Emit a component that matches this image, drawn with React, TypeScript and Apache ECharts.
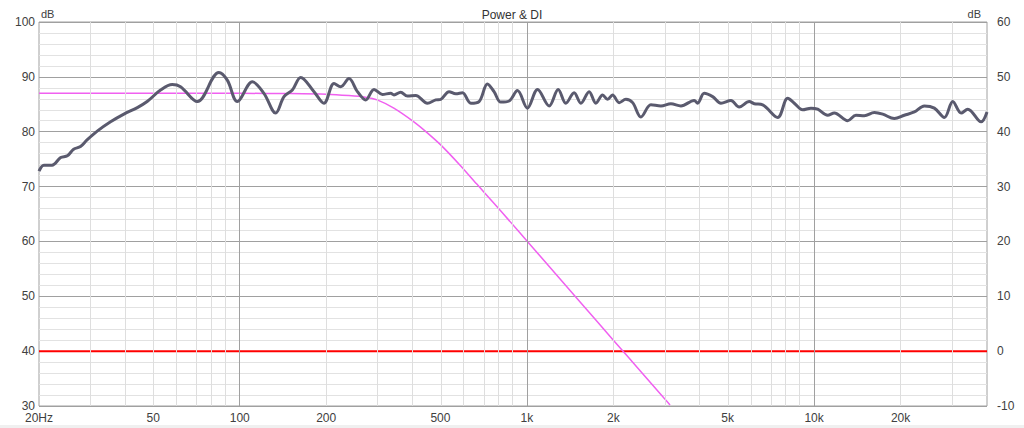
import React, { useEffect, useRef } from "react";
import * as echarts from "echarts";

// Power response (left axis, dB) – frequency in Hz
const powerFreq = [
  20, 20.8, 22.2, 23.8, 25.1, 26.4, 27.9, 29.4, 31.9, 35.5, 39.5, 44.0, 47.6, 53.0, 58.2, 62.2,
  71.2, 84.6, 90.5, 98.1, 110.7, 121.4, 133.4, 142.6, 152.5, 163, 181.4, 196.5, 213, 224.7,
  240.1, 257, 274.5, 293.5, 313.9, 335.5, 344.5, 363.4, 383.5, 409.9, 450.4, 481.4, 501.2,
  535.7, 565.2, 596.5, 637.5, 681.3, 728.6, 768.3, 811, 867, 927, 1004, 1089, 1195, 1285,
  1366, 1460, 1541, 1647, 1738, 1835, 1909, 1987, 2095, 2211, 2334, 2494, 2703, 2928, 3172,
  3438, 3824, 3930, 4143, 4432, 4738, 5134, 5486, 5946, 6190, 6620, 7468, 8094, 8532, 9125,
  9753, 10290, 11150, 11760, 13090, 13990, 14960, 16210, 17340, 19030, 20610, 22340, 24200,
  26230, 28420, 30400, 32500, 34290, 38150, 40000,
];
const powerDb = [
  72.8, 73.9, 73.9, 75.3, 75.6, 76.8, 77.3, 78.5, 80.1, 81.8, 83.2, 84.4, 85.5, 87.6, 88.6, 88.2,
  85.5, 90.8, 89.4, 85.5, 89.1, 87.0, 83.4, 86.4, 87.6, 89.9, 87.3, 85.2, 88.8, 88.2,
  89.7, 87.3, 85.8, 87.7, 86.8, 87.0, 86.7, 87.2, 86.5, 86.6, 85.2, 85.8, 85.9,
  87.3, 86.9, 87.1, 85.2, 85.5, 88.7, 87.3, 85.4, 85.6, 87.5, 84.3, 87.7, 84.7, 87.7,
  85.2, 87.1, 85.2, 87.3, 85.2, 86.7, 85.9, 86.7, 85.3, 85.9, 85.3, 82.7, 84.9, 84.7, 85.1,
  84.7, 85.7, 85.2, 87.0, 86.4, 85.2, 85.7, 84.5, 85.5, 85.1, 84.9, 82.6, 86.1, 85.2, 84.0,
  84.3, 84.1, 83.0, 83.4, 82.0, 83.0, 82.9, 83.5, 83.2, 82.4, 83.0, 83.6, 84.7,
  84.3, 82.6, 85.5, 83.4, 84.1, 81.8, 83.6,
];

// Target / low-pass curve (left axis, dB)
const targetFreq = [20, 50, 100, 150, 200, 240, 274, 301, 344, 404, 450, 501, 585, 668, 769, 871, 1004, 1200, 1500, 2000, 2500, 3000, 3150];
const targetDb = [87, 87, 87, 86.95, 86.85, 86.6, 86.3, 85.8, 84.3, 81.8, 79.8, 77.6, 73.9, 70.5, 66.9, 63.7, 60.0, 55.35, 49.5, 42.0, 36.2, 31.45, 30.2];

// DI (right axis, dB)
const diFreq = [20, 40000];
const diDb = [0, 0];

// Axis ticks
const xTickFreqs = [20, 50, 100, 200, 500, 1000, 2000, 5000, 10000, 20000];
const xTickLabels = ["20Hz", "50", "100", "200", "500", "1k", "2k", "5k", "10k", "20k"];
const majorGridFreqs = [100, 1000, 10000];
const minorGridFreqs = [
  30, 40, 50, 60, 70, 80, 90,
  200, 300, 400, 500, 600, 700, 800, 900,
  2000, 3000, 4000, 5000, 6000, 7000, 8000, 9000,
  20000, 30000,
];

const FONT = "Liberation Sans, Arial, sans-serif";
const lg = (f: number) => Math.log10(f);

export default function App() {
  const ref = useRef<HTMLDivElement>(null);

  useEffect(() => {
    document.body.style.margin = "0";
    if (!ref.current) return;
    const chart = echarts.init(ref.current, null, { renderer: "svg" });

    const gridLines = [
      ...minorGridFreqs.map((f) => ({ xAxis: lg(f), lineStyle: { color: "#dedede", width: 1, type: "solid" as const } })),
      ...majorGridFreqs.map((f) => ({ xAxis: lg(f), lineStyle: { color: "#a0a0a0", width: 1, type: "solid" as const } })),
    ];

    chart.setOption({
      animation: false,
      backgroundColor: "#ffffff",
      title: {
        text: "Power & DI",
        left: "center",
        top: 4,
        textStyle: { fontFamily: FONT, fontSize: 12, fontWeight: "normal", color: "#333333" },
      },
      graphic: [
        { type: "rect", shape: { x: 0, y: 425, width: 1024, height: 3 }, style: { fill: "#f0f0f0" }, silent: true },
      ],
      grid: {
        left: 39,
        right: 37,
        top: 22,
        bottom: 22,
        show: true,
        borderColor: "#a0a0a0",
        borderWidth: 1,
        backgroundColor: "#ffffff",
      },
      xAxis: {
        type: "value",
        min: lg(20),
        max: lg(40000),
        axisLine: { show: false },
        axisTick: { show: false },
        splitLine: { show: false },
        axisLabel: {
          customValues: xTickFreqs.map(lg),
          formatter: (v: number) => {
            let best = 0;
            let bd = Infinity;
            xTickFreqs.forEach((f, i) => {
              const d = Math.abs(lg(f) - v);
              if (d < bd) { bd = d; best = i; }
            });
            return xTickLabels[best];
          },
          margin: 6,
          fontFamily: FONT,
          fontSize: 12,
          color: "#404040",
          showMinLabel: true,
          showMaxLabel: true,
        },
      },
      yAxis: [
        {
          type: "value",
          min: 30,
          max: 100,
          interval: 10,
          name: "dB",
          nameLocation: "end",
          nameGap: 3,
          nameTextStyle: { fontFamily: FONT, fontSize: 11, color: "#404040", align: "left", padding: [0, 0, 0, 2] },
          axisLine: { show: false },
          axisTick: { show: false },
          axisLabel: { margin: 4, fontFamily: FONT, fontSize: 12, color: "#404040" },
          splitLine: { show: true, lineStyle: { color: "#a0a0a0", width: 1 } },
          minorTick: { show: false, splitNumber: 5 },
          minorSplitLine: { show: true, lineStyle: { color: "#e2e2e2", width: 1 } },
        },
        {
          type: "value",
          min: -10,
          max: 60,
          interval: 10,
          position: "right",
          name: "dB",
          nameLocation: "end",
          nameGap: 3,
          nameTextStyle: { fontFamily: FONT, fontSize: 11, color: "#404040", align: "right", padding: [0, 6, 0, 0] },
          axisLine: { show: false },
          axisTick: { show: false },
          axisLabel: { margin: 10, fontFamily: FONT, fontSize: 12, color: "#404040" },
          splitLine: { show: false },
        },
      ],
      series: [
        {
          name: "grid",
          type: "line",
          data: [[lg(20), 30], [lg(40000), 30]],
          showSymbol: false,
          symbol: "none",
          silent: true,
          lineStyle: { opacity: 0 },
          z: 1,
          markLine: {
            silent: true,
            symbol: ["none", "none"],
            label: { show: false },
            animation: false,
            data: gridLines,
          },
        },
        {
          name: "DI",
          type: "line",
          yAxisIndex: 1,
          data: diFreq.map((f, i) => [lg(f), diDb[i]]),
          symbol: "none",
          lineStyle: { color: "#ff0000", width: 2 },
          z: 3,
        },
        {
          name: "Target",
          type: "line",
          data: targetFreq.map((f, i) => [lg(f), targetDb[i]]),
          symbol: "none",
          smooth: 0.2,
          lineStyle: { color: "#f060f0", width: 1.5 },
          z: 4,
        },
        {
          name: "Power",
          type: "line",
          data: powerFreq.map((f, i) => [lg(f), powerDb[i]]),
          symbol: "none",
          smooth: 0.35,
          lineStyle: { color: "#5a5a6e", width: 3 },
          z: 5,
        },
      ],
    });

    return () => chart.dispose();
  }, []);

  return <div ref={ref} style={{ width: 1024, height: 428 }} />;
}
